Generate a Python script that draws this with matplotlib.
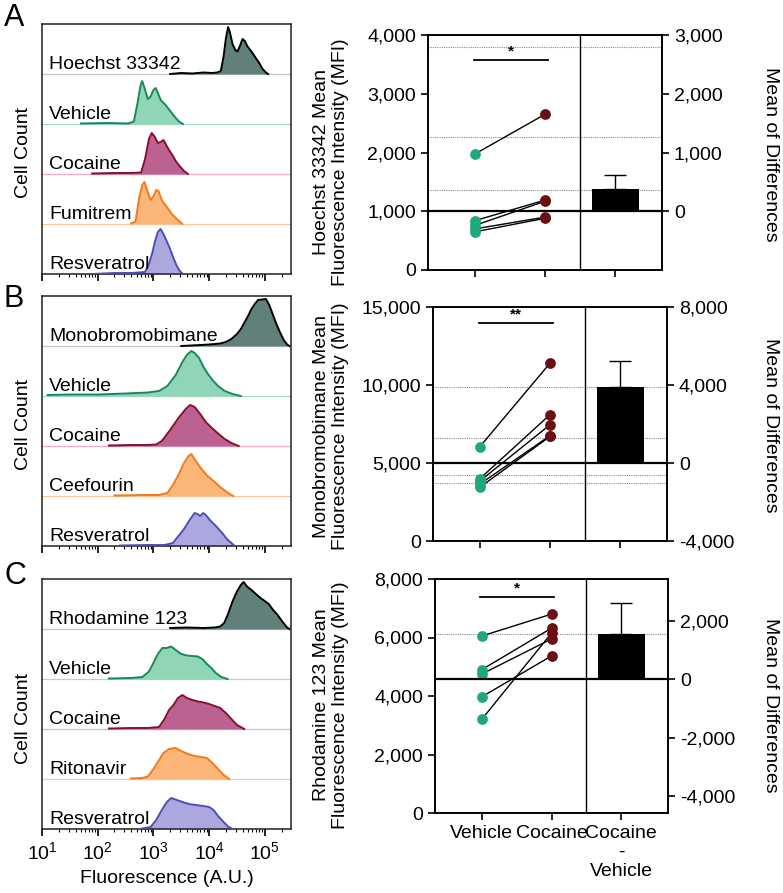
### DEPENDENCIES
### ------------------
import numpy as np
import matplotlib
matplotlib.use("Agg")
import matplotlib.pyplot as plt
import matplotlib.transforms as mtransforms
from matplotlib.ticker import FixedLocator, FuncFormatter, LogLocator, NullFormatter

plt.rcParams['font.family'] = ['Liberation Sans', 'DejaVu Sans']

### DATA (log10 fluorescence, relative cell count per row)
### ------------------
a_stain_x = [3.3, 3.5, 3.7, 3.9, 4.05, 4.15, 4.21, 4.26, 4.30, 4.34, 4.37, 4.42, 4.47, 4.51, 4.56, 4.60, 4.64, 4.69, 4.76, 4.82, 4.90, 4.96, 5.03, 5.06]
a_stain_y = [0.0, 0.02, 0.01, 0.03, 0.02, 0.03, 0.06, 0.35, 0.70, 0.94, 0.85, 0.60, 0.48, 0.45, 0.58, 0.70, 0.66, 0.55, 0.45, 0.35, 0.22, 0.10, 0.02, 0.0]
a_veh_x = [1.7, 2.2, 2.55, 2.65, 2.72, 2.77, 2.80, 2.84, 2.90, 2.95, 3.00, 3.04, 3.08, 3.13, 3.20, 3.26, 3.33, 3.40, 3.47, 3.53]
a_veh_y = [0.01, 0.02, 0.01, 0.05, 0.45, 0.78, 0.86, 0.72, 0.50, 0.55, 0.68, 0.72, 0.62, 0.48, 0.40, 0.32, 0.22, 0.12, 0.04, 0.0]
a_coc_x = [1.9, 2.3, 2.6, 2.78, 2.85, 2.92, 2.97, 3.02, 3.08, 3.13, 3.18, 3.22, 3.28, 3.34, 3.40, 3.47, 3.55, 3.62]
a_coc_y = [0.01, 0.02, 0.02, 0.03, 0.30, 0.70, 0.82, 0.75, 0.62, 0.64, 0.68, 0.60, 0.48, 0.38, 0.26, 0.16, 0.06, 0.0]
a_inh_x = [2.6, 2.68, 2.74, 2.80, 2.84, 2.88, 2.95, 3.00, 3.05, 3.09, 3.15, 3.20, 3.27, 3.33, 3.42, 3.52]
a_inh_y = [0.01, 0.05, 0.50, 0.78, 0.84, 0.70, 0.48, 0.55, 0.68, 0.66, 0.48, 0.40, 0.30, 0.20, 0.10, 0.0]
a_res_x = [1.9, 2.3, 2.6, 2.85, 2.92, 2.98, 3.03, 3.08, 3.13, 3.17, 3.23, 3.30, 3.36, 3.42, 3.48, 3.53]
a_res_y = [0.0, 0.02, 0.02, 0.04, 0.20, 0.42, 0.66, 0.84, 0.90, 0.82, 0.68, 0.50, 0.32, 0.16, 0.05, 0.0]

b_stain_x = [3.5, 3.85, 4.0, 4.2, 4.3, 4.40, 4.50, 4.57, 4.64, 4.70, 4.76, 4.82, 4.88, 4.95, 5.02, 5.08, 5.14, 5.20, 5.27, 5.34, 5.40, 5.44]
b_stain_y = [0.0, 0.02, 0.03, 0.05, 0.08, 0.14, 0.24, 0.34, 0.48, 0.60, 0.74, 0.84, 0.92, 0.93, 0.94, 0.82, 0.64, 0.46, 0.28, 0.12, 0.03, 0.0]
b_veh_x = [1.1, 1.5, 2.0, 2.5, 2.9, 3.1, 3.25, 3.40, 3.52, 3.60, 3.68, 3.74, 3.82, 3.90, 3.98, 4.06, 4.16, 4.28, 4.42, 4.57]
b_veh_y = [0.02, 0.03, 0.03, 0.05, 0.07, 0.10, 0.20, 0.42, 0.68, 0.82, 0.90, 0.86, 0.76, 0.58, 0.44, 0.32, 0.20, 0.10, 0.04, 0.0]
b_coc_x = [2.2, 2.6, 2.9, 3.05, 3.15, 3.30, 3.45, 3.58, 3.66, 3.74, 3.84, 3.94, 4.05, 4.15, 4.28, 4.40, 4.53]
b_coc_y = [0.01, 0.02, 0.02, 0.03, 0.10, 0.32, 0.56, 0.74, 0.82, 0.78, 0.64, 0.48, 0.36, 0.26, 0.14, 0.06, 0.0]
b_inh_x = [2.3, 2.8, 3.1, 3.25, 3.35, 3.45, 3.55, 3.63, 3.68, 3.75, 3.85, 3.97, 4.10, 4.22, 4.33, 4.43]
b_inh_y = [0.01, 0.02, 0.02, 0.06, 0.22, 0.42, 0.66, 0.80, 0.84, 0.72, 0.56, 0.40, 0.28, 0.16, 0.07, 0.0]
b_res_x = [2.4, 2.9, 3.2, 3.35, 3.45, 3.55, 3.65, 3.74, 3.79, 3.84, 3.89, 3.94, 4.03, 4.12, 4.22, 4.32, 4.40, 4.46]
b_res_y = [0.01, 0.02, 0.02, 0.06, 0.20, 0.34, 0.52, 0.66, 0.64, 0.60, 0.66, 0.62, 0.50, 0.40, 0.28, 0.14, 0.06, 0.0]

c_stain_x = [3.3, 3.6, 3.9, 4.1, 4.2, 4.27, 4.34, 4.42, 4.50, 4.57, 4.62, 4.68, 4.76, 4.84, 4.92, 5.00, 5.07, 5.15, 5.23, 5.32, 5.40, 5.44]
c_stain_y = [0.02, 0.03, 0.02, 0.03, 0.05, 0.12, 0.30, 0.55, 0.75, 0.88, 0.94, 0.85, 0.78, 0.70, 0.62, 0.56, 0.50, 0.38, 0.28, 0.14, 0.03, 0.0]
c_veh_x = [2.2, 2.6, 2.8, 2.92, 3.0, 3.08, 3.16, 3.24, 3.32, 3.40, 3.50, 3.60, 3.70, 3.80, 3.88, 3.96, 4.04, 4.12, 4.22, 4.33]
c_veh_y = [0.01, 0.02, 0.04, 0.15, 0.32, 0.50, 0.62, 0.62, 0.65, 0.58, 0.50, 0.47, 0.46, 0.45, 0.40, 0.30, 0.22, 0.12, 0.04, 0.0]
c_coc_x = [2.2, 2.6, 2.9, 3.1, 3.2, 3.28, 3.36, 3.44, 3.52, 3.60, 3.70, 3.80, 3.90, 4.00, 4.10, 4.20, 4.30, 4.40, 4.50, 4.60, 4.63]
c_coc_y = [0.01, 0.02, 0.02, 0.04, 0.20, 0.38, 0.48, 0.62, 0.68, 0.62, 0.58, 0.55, 0.53, 0.50, 0.46, 0.42, 0.32, 0.20, 0.08, 0.02, 0.0]
c_inh_x = [2.6, 2.8, 2.9, 3.0, 3.08, 3.18, 3.28, 3.40, 3.50, 3.62, 3.74, 3.86, 3.96, 4.06, 4.16, 4.26, 4.36]
c_inh_y = [0.01, 0.02, 0.05, 0.20, 0.34, 0.52, 0.60, 0.62, 0.56, 0.50, 0.46, 0.44, 0.42, 0.32, 0.20, 0.08, 0.0]
c_res_x = [2.8, 2.95, 3.05, 3.14, 3.24, 3.32, 3.42, 3.52, 3.64, 3.76, 3.90, 4.00, 4.08, 4.16, 4.26, 4.34, 4.42]
c_res_y = [0.01, 0.04, 0.18, 0.36, 0.54, 0.62, 0.58, 0.54, 0.50, 0.48, 0.46, 0.44, 0.38, 0.26, 0.14, 0.05, 0.0]

labels_a = ['Hoechst 33342', 'Vehicle', 'Cocaine', 'Fumitrem', 'Resveratrol']
labels_b = ['Monobromobimane', 'Vehicle', 'Cocaine', 'Ceefourin', 'Resveratrol']
labels_c = ['Rhodamine 123', 'Vehicle', 'Cocaine', 'Ritonavir', 'Resveratrol']

# paired MFI values (left axis) and error of the mean difference (right axis)
hoechst_vehicle = [1975, 840, 760, 700, 650]
hoechst_cocaine = [2650, 1190, 1170, 900, 880]
hoechst_err = 250
mbb_vehicle = [6050, 4000, 3850, 3650, 3450]
mbb_cocaine = [11400, 8100, 7450, 6750, 6700]
mbb_err = 1370
rho_vehicle = [6050, 4900, 4750, 3970, 3200]
rho_cocaine = [6800, 6320, 5950, 5370, 6150]
rho_err = 1050

group_labels = ['Vehicle', 'Cocaine', 'Cocaine\n-\nVehicle']

### STYLE
### ------------------
FILLS = ['#62807b', '#8fd5b6', '#bb6290', '#fbb678', '#aaa8de']
EDGES = ['#000000', '#17885a', '#870f2e', '#f27a1e', '#4d4db8']
BASES = ['#bcc8c6', '#a2dec6', '#f2acc9', '#fccb9d', '#aeaede']
FS = 14
W, H = 783.0, 893.0

def px_axes(fig, left, top, right, bottom):
    return fig.add_axes([left / W, 1 - bottom / H, (right - left) / W, (bottom - top) / H])

### AUX METHODS
### ------------------

def plotHist(ax, rows, labels, show_labels):
    trans = mtransforms.blended_transform_factory(ax.transAxes, ax.transData)
    for i, (x, y) in enumerate(rows):
        base = 4 - i
        xs = 10 ** np.array(x)
        ys = base + np.array(y)
        ax.axhline(base, color=BASES[i], lw=0.9, zorder=1)
        ax.fill_between(xs, base, ys, color=FILLS[i], lw=0, zorder=2)
        ax.plot(xs, ys, color=EDGES[i], lw=1.4, zorder=3)
        ax.text(0.028, base + 0.1, labels[i], transform=trans, fontsize=FS, va='baseline', zorder=4)
    ax.set_xscale('log')
    ax.set_xlim(10, 10 ** 5.47)
    ax.set_ylim(0, 5)
    ax.set_yticks([])
    ax.xaxis.set_major_locator(LogLocator(base=10, numticks=10))
    ax.xaxis.set_minor_locator(LogLocator(base=10, subs=np.arange(2, 10), numticks=10))
    ax.xaxis.set_minor_formatter(NullFormatter())
    ax.tick_params(axis='x', which='major', direction='out', length=5, width=1.2, labelsize=FS)
    ax.tick_params(axis='x', which='minor', direction='out', length=2.5, width=0.8)
    if not show_labels:
        ax.tick_params(axis='x', labelbottom=False)
    for s in ax.spines.values():
        s.set_color('#222222')
        s.set_linewidth(1.1)

def plotPaired(ax, vehicle, cocaine, err, left_lim, right_lim, left_ticks, right_ticks,
               ref_lines, sig_y, stars, show_labels):
    vehicle = np.array(vehicle)
    cocaine = np.array(cocaine)
    ax.set_xlim(0.33, 3.67)
    ax.set_ylim(left_lim)
    for y in ref_lines:
        ax.axhline(y, color='#8a8a8a', lw=0.8, ls=(0, (1, 1)), zorder=1)
    for v, c in zip(vehicle, cocaine):
        ax.plot([1, 2], [v, c], color='black', lw=1.0, zorder=2)
    ax.scatter(np.ones(len(vehicle)), vehicle, s=60, color='#1fa878', zorder=3, lw=0)
    ax.scatter(np.full(len(cocaine), 2), cocaine, s=60, color='#6a1015', zorder=3, lw=0)
    ax.axvline(2.5, color='black', lw=1.0)
    ax.plot([0.98, 2.04], [sig_y, sig_y], color='black', lw=1.3)
    span = left_lim[1] - left_lim[0]
    ax.text(1.51, sig_y + span * 0.004, stars, ha='center', va='bottom', fontsize=11, fontweight='bold')

    ax2 = ax.twinx()
    ax2.set_ylim(right_lim)
    diff = np.mean(cocaine - vehicle)
    ax2.bar(3, diff, width=0.67, color='black', zorder=3)
    ax2.errorbar(3, diff, yerr=[[0], [err]], color='black', lw=1.0, capsize=8, capthick=1.0, zorder=2)
    ax2.axhline(0, color='black', lw=1.6)

    fmt = FuncFormatter(lambda v, p: f'{int(round(v)):,}')
    ax.yaxis.set_major_locator(FixedLocator(left_ticks))
    ax.yaxis.set_major_formatter(fmt)
    ax2.yaxis.set_major_locator(FixedLocator(right_ticks))
    ax2.yaxis.set_major_formatter(fmt)
    ax.set_xticks([1, 2, 3])
    ax.set_xticklabels(group_labels if show_labels else ['', '', ''], linespacing=1.15)
    for a in (ax, ax2):
        a.tick_params(direction='out', length=5, width=1.2, labelsize=FS)
        for s in a.spines.values():
            s.set_linewidth(1.2)

### MAIN
### ------------------
fig = plt.figure(figsize=(W / 100, H / 100), dpi=100)

hist_a = px_axes(fig, 42, 24, 291, 274)
plotHist(hist_a, [(a_stain_x, a_stain_y), (a_veh_x, a_veh_y), (a_coc_x, a_coc_y),
                  (a_inh_x, a_inh_y), (a_res_x, a_res_y)], labels_a, False)
hist_b = px_axes(fig, 42, 296, 291, 546)
plotHist(hist_b, [(b_stain_x, b_stain_y), (b_veh_x, b_veh_y), (b_coc_x, b_coc_y),
                  (b_inh_x, b_inh_y), (b_res_x, b_res_y)], labels_b, False)
hist_c = px_axes(fig, 42, 579, 291, 829)
plotHist(hist_c, [(c_stain_x, c_stain_y), (c_veh_x, c_veh_y), (c_coc_x, c_coc_y),
                  (c_inh_x, c_inh_y), (c_res_x, c_res_y)], labels_c, True)
hist_c.set_xlabel('Fluorescence (A.U.)', fontsize=FS, labelpad=5)

pa = px_axes(fig, 428, 35, 662, 270)
plotPaired(pa, hoechst_vehicle, hoechst_cocaine, hoechst_err, (0, 4000), (-1000, 3000),
           [0, 1000, 2000, 3000, 4000], [0, 1000, 2000, 3000],
           [3800, 2270, 1370], 3580, '*', False)
pb = px_axes(fig, 433, 307, 667, 541)
plotPaired(pb, mbb_vehicle, mbb_cocaine, mbb_err, (0, 15000), (-4000, 8000),
           [0, 5000, 10000, 15000], [-4000, 0, 4000, 8000],
           [9850, 6600, 4230, 3720], 14000, '**', False)
pc = px_axes(fig, 435, 579, 668, 813)
plotPaired(pc, rho_vehicle, rho_cocaine, rho_err, (0, 8000), (-4580, 3420),
           [0, 2000, 4000, 6000, 8000], [-4000, -2000, 0, 2000],
           [6120], 7390, '*', True)

# axis titles and panel letters
for letter, ly, cy, yl, ry, title in [
        ('A', 18, 152, 162, 154, 'Hoechst 33342 Mean\nFluorescence Intensity (MFI)'),
        ('B', 299, 425, 426, 425, 'Monobromobimane Mean\nFluorescence Intensity (MFI)'),
        ('C', 576, 718, 705, 705, 'Rhodamine 123 Mean\nFluorescence Intensity (MFI)')]:
    fig.text(4 / W, 1 - ly / H, letter, fontsize=22, va='center', ha='left')
    fig.text(24 / W, 1 - cy / H, 'Cell Count', fontsize=FS, rotation=90, va='center', ha='center')
    fig.text(331 / W, 1 - yl / H, title, fontsize=FS, rotation=90, va='center', ha='center',
             linespacing=1.1)
    fig.text(770 / W, 1 - ry / H, 'Mean of Differences', fontsize=FS, rotation=270,
             va='center', ha='center')

fig.savefig('out.png', dpi=100)
